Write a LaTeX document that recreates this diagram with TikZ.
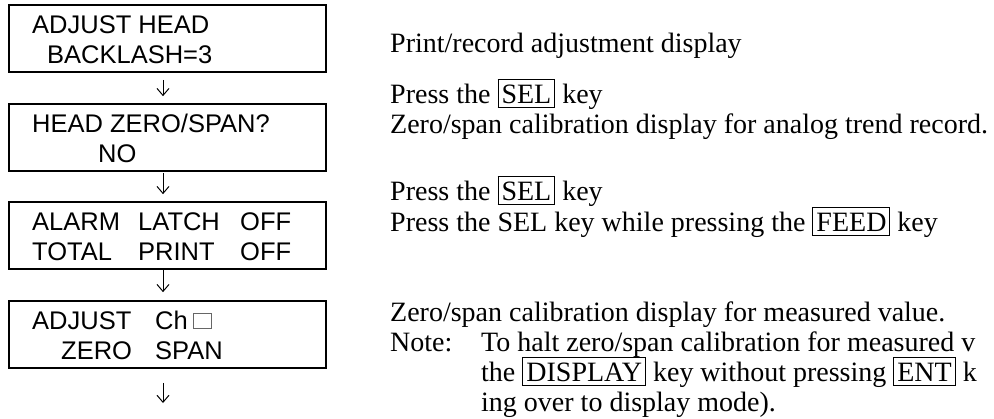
\documentclass[tikz,border=0pt]{standalone}
\usepackage{fontspec}
\setmainfont{Liberation Serif}
\newfontfamily\lcdfont{Liberation Sans}
\usetikzlibrary{arrows.meta}
\newcommand\keyb[1]{{\setlength\fboxsep{0pt}\setlength\fboxrule{1pt}\fbox{\rule[-4pt]{0pt}{27pt}\hspace{3pt}#1\hspace{3pt}}}}
\tikzset{
  dispbox/.style={draw, line width=1.6pt, minimum width=317pt, minimum height=67pt, inner sep=0pt},
  lcd/.style={anchor=base west, inner sep=0pt, font=\lcdfont\fontsize{25.5}{30}\selectfont},
  desc/.style={anchor=base west, inner sep=0pt, font=\fontsize{28}{30}\selectfont},
  flow/.style={line width=1pt, -{Straight Barb[length=7pt,width=12pt]}},
  charbox/.style={draw=black!60, line width=0.8pt, minimum width=18pt, minimum height=15pt, inner sep=0pt}
}
\begin{document}
\begin{tikzpicture}[x=1pt,y=-1pt]
\useasboundingbox (0,0) rectangle (994,418);
% display boxes
\node[dispbox] (b1) at (167.5,38.5) {};
\node[dispbox] (b2) at (167.5,137.5) {};
\node[dispbox] (b3) at (167.5,235.5) {};
\node[dispbox] (b4) at (167.5,334.5) {};
% box texts
\node[lcd] (b1a) at (32,33) {ADJUST HEAD};
\node[lcd] (b1b) at (47,63) {BACKLASH=3};
\node[lcd] (b2a) at (32,132) {HEAD ZERO/SPAN?};
\node[lcd] (b2b) at (98,162) {NO};
\node[lcd] (b3a) at (32,230) {ALARM};
\node[lcd] (b3b) at (138,230) {LATCH};
\node[lcd] (b3c) at (240,230) {OFF};
\node[lcd] (b3d) at (32,260) {TOTAL};
\node[lcd] (b3e) at (138,260) {PRINT};
\node[lcd] (b3f) at (240,260) {OFF};
\node[lcd] (b4a) at (32,329) {ADJUST};
\node[lcd] (b4b) at (155,329) {Ch};
\node[charbox] (b4c) at (202,320.5) {};
\node[lcd] (b4d) at (61,359) {ZERO};
\node[lcd] (b4e) at (155,359) {SPAN};
% connectors
\coordinate (endpt) at (163,403);
\draw[flow, shorten <=7pt, shorten >=7pt] ([xshift=-4.5pt]b1.south) -- ([xshift=-4.5pt]b2.north);
\draw[flow, shorten <=1pt, shorten >=7pt] ([xshift=-4.5pt]b2.south) -- ([xshift=-4.5pt]b3.north);
\draw[flow, shorten <=0pt, shorten >=8pt] ([xshift=-4.5pt]b3.south) -- ([xshift=-4.5pt]b4.north);
\draw[flow, shorten <=14pt] ([xshift=-4.5pt]b4.south) -- (endpt);
% descriptions
\node[desc] (l1) at (390,52) {Print/record adjustment display};
\node[desc] (l2) at (390,103) {Press the \keyb{SEL} key};
\node[desc] (l3) at (390,133) {Zero/span calibration display for analog trend record.};
\node[desc] (l4) at (390,200) {Press the \keyb{SEL} key};
\node[desc] (l5) at (390,231) {Press the SEL key while pressing the \keyb{FEED} key};
\node[desc] (l6) at (390,321) {Zero/span calibration display for measured value.};
\node[desc] (l7) at (390,351) {Note:};
\node[desc] (l7b) at (481,351) {To halt zero/span calibration for measured v};
\node[desc] (l8) at (481,381) {the \keyb{DISPLAY} key without pressing \keyb{ENT} k};
\node[desc] (l9) at (481,411) {ing over to display mode).};
\end{tikzpicture}
\end{document}
